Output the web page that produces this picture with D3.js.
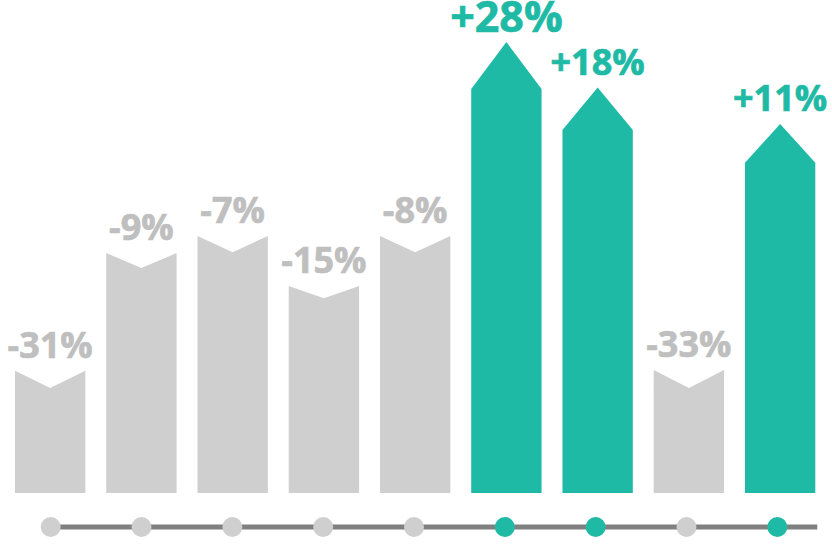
<!DOCTYPE html>
<html>
<head>
<meta charset="utf-8">
<script src="https://cdn.jsdelivr.net/npm/d3@7"></script>
<style>
  html, body { margin: 0; padding: 0; background: #fff; }
  svg { display: block; }
  text { font-family: "Open Sans", sans-serif; font-weight: bold; }
</style>
</head>
<body>
<div id="chart"></div>
<script>
// Period by period change, bar shoulders and tips on a 0-100 level scale
var periods = ["P1", "P2", "P3", "P4", "P5", "P6", "P7", "P8", "P9"];
var changes = [-31, -9, -7, -15, -8, 28, 18, -33, 11];
var levels  = [27.1, 53.2, 57.0, 45.9, 57.0, 89.6, 80.5, 27.3, 73.2];
var tips    = [23.3, 49.9, 53.4, 43.2, 53.4, 100, 89.9, 23.3, 81.8];

var svgWidth = 832, svgHeight = 555;
var teal = "#1fbaa5", grey = "#cfcfcf", greyText = "#bfbfbf";

var svg = d3.select("#chart")
  .append("svg")
  .attr("width", svgWidth)
  .attr("height", svgHeight);

var data = periods.map(function(p, i) {
  return { period: p, change: changes[i], level: levels[i], tip: tips[i] };
});

// scales
var xScale = d3.scaleBand()
  .domain(periods)
  .range([15, 815.3])
  .paddingInner(0.229)
  .paddingOuter(0);

var yScale = d3.scaleLinear()
  .domain([0, 100])
  .range([493, 42]);

var dotScale = d3.scalePoint()
  .domain(periods)
  .range([50.7, 777.3]);

var maxChange = d3.max(changes);

// bar shape: flat sides, arrow top for gains, notched top for losses
function barPath(d) {
  var x0 = xScale(d.period),
      x1 = x0 + xScale.bandwidth(),
      xm = x0 + xScale.bandwidth() / 2,
      y0 = yScale(0),
      ys = yScale(d.level),
      yt = yScale(d.tip);
  return "M" + x0 + "," + y0 +
    "L" + x0 + "," + ys +
    "L" + xm + "," + yt +
    "L" + x1 + "," + ys +
    "L" + x1 + "," + y0 + "Z";
}

svg.append("g").selectAll("path")
  .data(data)
  .enter()
  .append("path")
  .attr("d", barPath)
  .attr("fill", d => d.change > 0 ? teal : grey);

// value labels, the biggest gain a bit larger
svg.append("g").selectAll("text")
  .data(data)
  .enter()
  .append("text")
  .attr("x", d => xScale(d.period) + xScale.bandwidth() / 2)
  .attr("y", d => Math.min(yScale(d.level), yScale(d.tip)) - (d.change === maxChange ? 10 : 13))
  .attr("text-anchor", "middle")
  .attr("font-size", d => d.change === maxChange ? 43 : 36)
  .attr("fill", d => d.change > 0 ? teal : greyText)
  .attr("stroke", d => d.change > 0 ? teal : greyText)
  .attr("stroke-width", 0.7)
  .text(d => (d.change > 0 ? "+" : "") + d.change + "%");

// timeline
var timeline = svg.append("g");

timeline.append("line")
  .attr("x1", dotScale(periods[0]))
  .attr("x2", xScale(periods[periods.length - 1]) + xScale.bandwidth() + 2)
  .attr("y1", 527)
  .attr("y2", 527)
  .attr("stroke", "#808080")
  .attr("stroke-width", 5);

timeline.selectAll("circle")
  .data(data)
  .enter()
  .append("circle")
  .attr("cx", d => dotScale(d.period))
  .attr("cy", 527)
  .attr("r", 10)
  .attr("fill", d => d.change > 0 ? teal : grey);
</script>
</body>
</html>
